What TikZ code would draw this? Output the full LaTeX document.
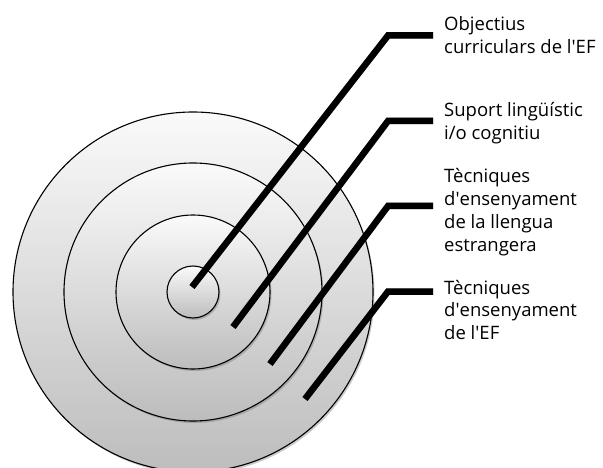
\documentclass[tikz,border=0pt]{standalone}
\usepackage{fontspec}
\setmainfont{Open Sans}
\usetikzlibrary{shadows,shadings}
\newcommand\aps{\textquotesingle}
\newcommand\lbltext[1]{\begin{tabular}[t]{@{}l@{}}#1\end{tabular}}
\tikzset{
  ring/.style={draw=black, line width=1.1pt, top color=black!2, bottom color=black!26,
    drop shadow={shadow xshift=1.5pt, shadow yshift=-2pt, opacity=0.35, fill=black!60}},
  pointer/.style={line width=6.5pt, black, line join=miter, line cap=butt},
  lbl/.style={anchor=base west, inner sep=0pt, font=\fontsize{18.5}{22.7}\selectfont, text=black}
}
\begin{document}
\begin{tikzpicture}[x=1pt, y=-1pt]
\useasboundingbox (0,0) rectangle (603,468);
% rings
\coordinate (c) at (193,292);
\path[ring] (c) circle[radius=180];
\path[ring] (c) circle[radius=129];
\path[ring] (c) circle[radius=77];
\path[ring] (c) circle[radius=26];
% end points
\coordinate (e1) at (192,287);
\coordinate (e2) at (233,327);
\coordinate (e3) at (270,364);
\coordinate (e4) at (305,399);
% elbows
\coordinate (k1) at (388,35.5);
\coordinate (k2) at (388,121);
\coordinate (k3) at (388,206);
\coordinate (k4) at (388,291.5);
% horizontal ends
\coordinate (h1) at (433,35.5);
\coordinate (h2) at (433,121);
\coordinate (h3) at (433,206);
\coordinate (h4) at (433,291.5);
% labels
\node[lbl] (t1) at (444,31) {\lbltext{Objectius\\curriculars de l\aps EF}};
\node[lbl] (t2) at (444,117) {\lbltext{Suport lingüístic\\i/o cognitiu}};
\node[lbl] (t3) at (444,183) {\lbltext{Tècniques\\d\aps ensenyament\\de la llengua\\estrangera}};
\node[lbl] (t4) at (444,294) {\lbltext{Tècniques\\d\aps ensenyament\\de l\aps EF}};
% pointers
\foreach \i in {1,2,3,4}{
  \draw[pointer, opacity=0.25, shift={(2pt,-2.5pt)}] (e\i) -- (k\i) -- (h\i);
  \draw[pointer] (e\i) -- (k\i) -- (h\i);
}
\end{tikzpicture}
\end{document}
